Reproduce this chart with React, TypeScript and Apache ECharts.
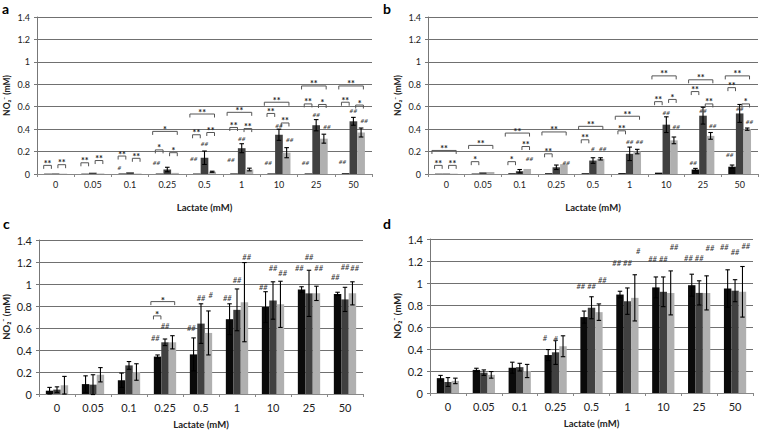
import React, { useEffect, useRef } from "react";
import * as echarts from "echarts";

const categories = ["0", "0.05", "0.1", "0.25", "0.5", "1", "10", "25", "50"];
const panelLetters = ["a", "b", "c", "d"];
const xTitle = "Lactate (mM)";
const yTitle = "NO₂⁻ (mM)";
const seriesColors = ["#0a0a0a", "#404040", "#b0b0b0"];

// Panel a
const aBlack = [0.003, 0.003, 0.004, 0.004, 0.004, 0.005, 0.005, 0.005, 0.007];
const aDark = [0.005, 0.012, 0.015, 0.04, 0.145, 0.23, 0.35, 0.435, 0.47];
const aLight = [0.003, 0.004, 0.004, 0.01, 0.02, 0.04, 0.19, 0.315, 0.37];
const aBlackErr = [0, 0, 0, 0, 0, 0, 0, 0, 0];
const aDarkErr = [0, 0, 0, 0.02, 0.06, 0.04, 0.05, 0.05, 0.035];
const aLightErr = [0, 0, 0, 0, 0.005, 0.012, 0.045, 0.04, 0.04];

// Panel b
const bBlack = [0.003, 0.004, 0.006, 0.007, 0.007, 0.008, 0.012, 0.04, 0.065];
const bDark = [0.004, 0.015, 0.025, 0.06, 0.12, 0.18, 0.44, 0.52, 0.54];
const bLight = [0.003, 0.018, 0.045, 0.088, 0.135, 0.2, 0.3, 0.34, 0.4];
const bBlackErr = [0, 0, 0, 0, 0, 0, 0, 0.01, 0.015];
const bDarkErr = [0, 0, 0.015, 0.02, 0.025, 0.06, 0.07, 0.075, 0.08];
const bLightErr = [0, 0, 0, 0, 0.01, 0.02, 0.03, 0.03, 0.01];

// Panel c
const cBlack = [0.03, 0.09, 0.125, 0.34, 0.36, 0.68, 0.79, 0.95, 0.91];
const cDark = [0.04, 0.085, 0.26, 0.47, 0.64, 0.765, 0.85, 0.915, 0.86];
const cLight = [0.08, 0.175, 0.2, 0.47, 0.555, 0.835, 0.815, 0.915, 0.915];
const cBlackErr = [0.03, 0.075, 0.065, 0.015, 0.15, 0.14, 0.14, 0.025, 0.015];
const cDarkErr = [0.025, 0.09, 0.035, 0.03, 0.18, 0.19, 0.17, 0.21, 0.11];
const cLightErr = [0.08, 0.065, 0.075, 0.06, 0.2, 0.36, 0.21, 0.065, 0.105];

// Panel d
const dBlack = [0.135, 0.21, 0.23, 0.345, 0.69, 0.895, 0.96, 0.98, 0.95];
const dDark = [0.1, 0.185, 0.235, 0.37, 0.775, 0.835, 0.92, 0.91, 0.93];
const dLight = [0.11, 0.165, 0.2, 0.425, 0.735, 0.865, 0.91, 0.91, 0.92];
const dBlackErr = [0.025, 0.015, 0.05, 0.05, 0.055, 0.03, 0.095, 0.1, 0.17];
const dDarkErr = [0.04, 0.025, 0.035, 0.11, 0.1, 0.12, 0.135, 0.11, 0.1];
const dLightErr = [0.025, 0.03, 0.06, 0.095, 0.075, 0.21, 0.2, 0.155, 0.23];

// Significance brackets: [category index, from bar, to bar, y value, mark]
const aBrackets: [number, number, number, number, string][] = [
  [0, 0, 1, 0.077, "**"], [0, 1, 2, 0.083, "**"],
  [1, 0, 1, 0.1, "**"], [1, 1, 2, 0.12, "**"],
  [2, 0, 1, 0.16, "**"], [2, 1, 2, 0.14, "**"],
  [3, 0, 1, 0.215, "*"], [3, 1, 2, 0.19, "*"], [3, 0, 2, 0.38, "*"],
  [4, 0, 1, 0.35, "**"], [4, 1, 2, 0.37, "**"], [4, 0, 2, 0.535, "**"],
  [5, 0, 1, 0.415, "**"], [5, 1, 2, 0.405, "**"], [5, 0, 2, 0.55, "**"],
  [6, 0, 1, 0.54, "**"], [6, 1, 2, 0.455, "**"], [6, 0, 2, 0.64, "**"],
  [7, 0, 1, 0.625, "**"], [7, 1, 2, 0.62, "*"], [7, 0, 2, 0.785, "**"],
  [8, 0, 1, 0.64, "**"], [8, 1, 2, 0.615, "*"], [8, 0, 2, 0.785, "**"],
];
const bBrackets: [number, number, number, number, string][] = [
  [0, 0, 1, 0.077, "**"], [0, 1, 2, 0.077, "**"], [0, 0, 2, 0.21, "**"],
  [1, 0, 1, 0.11, "*"], [1, 0, 2, 0.255, "**"],
  [2, 0, 1, 0.11, "*"], [2, 1, 2, 0.245, "**"], [2, 0, 2, 0.365, "**"],
  [3, 0, 1, 0.18, "**"], [3, 0, 2, 0.375, "**"],
  [4, 0, 1, 0.305, "**"], [4, 0, 2, 0.425, "**"],
  [5, 0, 1, 0.385, "**"], [5, 0, 2, 0.515, "**"],
  [6, 0, 1, 0.645, "**"], [6, 1, 2, 0.665, "*"], [6, 0, 2, 0.875, "**"],
  [7, 0, 1, 0.735, "**"], [7, 1, 2, 0.625, "**"], [7, 0, 2, 0.84, "**"],
  [8, 0, 1, 0.77, "**"], [8, 1, 2, 0.625, "*"], [8, 0, 2, 0.875, "**"],
];
const cBrackets: [number, number, number, number, string][] = [
  [3, 0, 1, 0.71, "*"], [3, 0, 2, 0.84, "*"],
];
const dBrackets: [number, number, number, number, string][] = [];

// Marks over bars: [category index, bar, y value, mark]
const aMarks: [number, number, number, string][] = [
  [2, 0, 0.06, "#"], [3, 0, 0.1, "##"], [4, 0, 0.135, "##"], [4, 1, 0.27, "##"],
  [5, 0, 0.13, "##"], [5, 1, 0.32, "##"], [6, 0, 0.105, "##"], [6, 1, 0.43, "##"],
  [6, 2, 0.31, "##"], [7, 0, 0.1, "##"], [7, 1, 0.535, "##"], [7, 2, 0.42, "##"],
  [8, 0, 0.11, "##"], [8, 1, 0.565, "##"], [8, 2, 0.48, "##"],
];
const bMarks: [number, number, number, string][] = [
  [2, 2, 0.135, "##"], [3, 2, 0.1, "##"], [4, 1, 0.225, "#"], [4, 2, 0.225, "##"],
  [5, 1, 0.29, "##"], [5, 2, 0.29, "##"], [6, 1, 0.55, "##"], [6, 2, 0.425, "##"],
  [7, 0, 0.1, "##"], [7, 1, 0.57, "##"], [7, 2, 0.43, "##"], [8, 0, 0.17, "##"],
  [8, 1, 0.58, "##"], [8, 2, 0.47, "##"],
];
const cMarks: [number, number, number, string][] = [
  [3, 0, 0.505, "##"], [3, 1, 0.61, "##"], [4, 0, 0.6, "##"], [4, 1, 0.87, "##"],
  [4, 2, 0.9, "#"], [5, 0, 0.87, "##"], [5, 1, 1.03, "##"], [5, 2, 1.24, "##"],
  [6, 0, 0.97, "##"], [6, 1, 1.14, "##"], [6, 2, 1.1, "##"], [7, 0, 1.14, "##"],
  [7, 1, 1.24, "##"], [7, 2, 1.14, "##"], [8, 0, 1.06, "##"], [8, 1, 1.15, "##"],
  [8, 2, 1.14, "##"],
];
const dMarks: [number, number, number, string][] = [
  [3, 0, 0.5, "#"], [3, 1, 0.49, "#"], [4, 0, 0.965, "##"], [4, 1, 0.965, "##"],
  [4, 2, 1.02, "##"], [5, 0, 1.18, "##"], [5, 1, 1.18, "##"], [5, 2, 1.29, "#"],
  [6, 0, 1.21, "##"], [6, 1, 1.21, "##"], [6, 2, 1.32, "##"], [7, 0, 1.22, "##"],
  [7, 1, 1.22, "##"], [7, 2, 1.31, "##"], [8, 0, 1.32, "##"], [8, 1, 1.28, "##"],
  [8, 2, 1.33, "##"],
];

const FONT = "Lato, 'Open Sans', sans-serif";
const GAP = 0.38;

type Panel = {
  vals: number[][];
  errs: number[][];
  brackets: [number, number, number, number, string][];
  marks: [number, number, number, string][];
  grid: { left: number; top: number; width: number; height: number };
  small: boolean;
  markShift: number;
};

const panels: Panel[] = [
  {
    vals: [aBlack, aDark, aLight], errs: [aBlackErr, aDarkErr, aLightErr],
    brackets: aBrackets, marks: aMarks,
    grid: { left: 37, top: 17, width: 335, height: 157 }, small: true, markShift: 0.4,
  },
  {
    vals: [bBlack, bDark, bLight], errs: [bBlackErr, bDarkErr, bLightErr],
    brackets: bBrackets, marks: bMarks,
    grid: { left: 428, top: 17, width: 330, height: 157 }, small: true, markShift: 0.3,
  },
  {
    vals: [cBlack, cDark, cLight], errs: [cBlackErr, cDarkErr, cLightErr],
    brackets: cBrackets, marks: cMarks,
    grid: { left: 39, top: 240, width: 324, height: 154 }, small: false, markShift: 0.3,
  },
  {
    vals: [dBlack, dDark, dLight], errs: [dBlackErr, dDarkErr, dLightErr],
    brackets: dBrackets, marks: dMarks,
    grid: { left: 430, top: 239, width: 323, height: 154 }, small: false, markShift: 0.45,
  },
];

function geom(api: any, cat: number, bar: number) {
  const band = api.size([1, 0])[0];
  const bw = (band * (1 - GAP)) / 3;
  const cx = api.coord([cat, 0])[0] + (bar - 1) * bw;
  return { bw, cx };
}

export default function App() {
  const ref = useRef<HTMLDivElement>(null);
  useEffect(() => {
    if (!ref.current) return;
    const chart = echarts.init(ref.current, null, { renderer: "svg" });
    const grids: any[] = [];
    const xAxes: any[] = [];
    const yAxes: any[] = [];
    const series: any[] = [];
    const titles: any[] = [];
    const letterPos = [
      [2, 1],
      [383, 1],
      [3, 216],
      [383, 216],
    ];
    panels.forEach((p, i) => {
      const fs = p.small ? 9 : 11;
      grids.push(p.grid);
      titles.push({
        text: panelLetters[i],
        left: letterPos[i][0],
        top: letterPos[i][1],
        padding: 0,
        textStyle: { fontSize: 14, fontWeight: "bold", fontFamily: FONT, color: "#000" },
      });
      xAxes.push({
        type: "category",
        gridIndex: i,
        data: categories,
        name: xTitle,
        nameLocation: "middle",
        nameGap: p.small ? 28 : 25,
        nameTextStyle: { fontSize: 9.5, fontWeight: "bold", fontFamily: FONT, color: "#222" },
        axisLine: { lineStyle: { color: "#888", width: 1 } },
        axisTick: { show: true, length: 3, lineStyle: { color: "#888" } },
        axisLabel: { fontSize: fs, fontFamily: FONT, color: "#222", margin: p.small ? 6 : 8 },
      });
      yAxes.push({
        type: "value",
        gridIndex: i,
        min: 0,
        max: 1.4,
        interval: 0.2,
        name: yTitle,
        nameLocation: "middle",
        nameGap: p.small ? 26 : 28,
        nameRotate: 90,
        nameTextStyle: { fontSize: p.small ? 8.5 : 9.5, fontWeight: "bold", fontFamily: FONT, color: "#222" },
        axisLine: { show: true, lineStyle: { color: "#777", width: 1 } },
        axisTick: { show: true, length: 3, lineStyle: { color: "#777" } },
        axisLabel: { fontSize: fs, fontFamily: FONT, color: "#222", margin: 7 },
        splitLine: { show: true, lineStyle: { color: "#707070", width: 1.2 } },
      });
      p.vals.forEach((v, k) => {
        series.push({
          type: "bar",
          xAxisIndex: i,
          yAxisIndex: i,
          data: v,
          barGap: "0%",
          barCategoryGap: "38%",
          itemStyle: { color: seriesColors[k] },
          silent: true,
        });
      });
      const errData: number[][] = [];
      p.vals.forEach((v, k) => {
        v.forEach((val, c) => {
          const e = p.errs[k][c];
          if (e > 0) errData.push([c, val + e, val - e, k]);
        });
      });
      series.push({
        type: "custom",
        xAxisIndex: i,
        yAxisIndex: i,
        data: errData,
        encode: { x: 0, y: [1, 2] },
        z: 5,
        silent: true,
        renderItem: (_params: any, api: any) => {
          const cat = api.value(0);
          const hi = api.value(1);
          const lo = api.value(2);
          const k = api.value(3);
          const { bw, cx } = geom(api, cat, k);
          const y1 = api.coord([cat, hi])[1];
          const y2 = api.coord([cat, lo])[1];
          const h = bw * 0.3;
          const st = { stroke: "#000", lineWidth: 1.1 };
          return {
            type: "group",
            children: [
              { type: "line", shape: { x1: cx, y1, x2: cx, y2 }, style: st },
              { type: "line", shape: { x1: cx - h, y1, x2: cx + h, y2: y1 }, style: st },
              { type: "line", shape: { x1: cx - h, y1: y2, x2: cx + h, y2 }, style: st },
            ],
          };
        },
      });
      if (p.brackets.length) {
        const br = p.brackets;
        series.push({
          type: "custom",
          xAxisIndex: i,
          yAxisIndex: i,
          data: br.map((b) => [b[0], b[3]]),
          encode: { x: 0, y: 1 },
          z: 6,
          silent: true,
          renderItem: (params: any, api: any) => {
            const b = br[params.dataIndex];
            const big = b[2] - b[1] >= 2;
            const g0 = geom(api, b[0], b[1]);
            const g1 = geom(api, b[0], b[2]);
            const bw = g0.bw;
            let x1: number;
            let x2: number;
            if (big) {
              x1 = g0.cx - 0.9 * bw;
              x2 = g1.cx + 0.3 * bw;
            } else {
              const s = b[1] === 0 ? -0.55 : 0.3;
              x1 = g0.cx + s * bw;
              x2 = g1.cx + s * bw;
            }
            const y = api.coord([b[0], b[3]])[1];
            return {
              type: "group",
              children: [
                {
                  type: "polyline",
                  shape: { points: [[x1, y + 3.5], [x1, y], [x2, y], [x2, y + 3.5]] },
                  style: { stroke: "#555", lineWidth: 1, fill: "none" },
                },
                {
                  type: "text",
                  x: (x1 + x2) / 2,
                  y: y - 2,
                  style: {
                    text: b[4],
                    fill: "#222",
                    fontSize: p.small ? 9 : 10,
                    fontWeight: "bold",
                    fontFamily: FONT,
                    align: "center",
                    verticalAlign: "middle",
                    textAlign: "center",
                    textVerticalAlign: "middle",
                  },
                },
              ],
            };
          },
        });
      }
      const mk = p.marks;
      series.push({
        type: "custom",
        xAxisIndex: i,
        yAxisIndex: i,
        data: mk.map((m) => [m[0], m[2]]),
        encode: { x: 0, y: 1 },
        z: 6,
        silent: true,
        renderItem: (params: any, api: any) => {
          const m = mk[params.dataIndex];
          const { bw, cx } = geom(api, m[0], m[1]);
          const x = cx + (m[1] - 1) * p.markShift * bw;
          const y = api.coord([m[0], m[2]])[1];
          return {
            type: "text",
            x,
            y,
            style: {
              text: m[3],
              fill: "#333",
              fontSize: p.small ? 6.5 : 7.5,
              fontStyle: "italic",
              fontFamily: FONT,
              align: "center",
              verticalAlign: "middle",
              textAlign: "center",
              textVerticalAlign: "middle",
            },
          };
        },
      });
    });
    chart.setOption({
      animation: false,
      backgroundColor: "#ffffff",
      title: titles,
      grid: grids,
      xAxis: xAxes,
      yAxis: yAxes,
      series,
    });
    return () => chart.dispose();
  }, []);
  return (
    <div
      ref={ref}
      style={{ position: "absolute", left: 0, top: 0, width: 760, height: 432 }}
    />
  );
}
